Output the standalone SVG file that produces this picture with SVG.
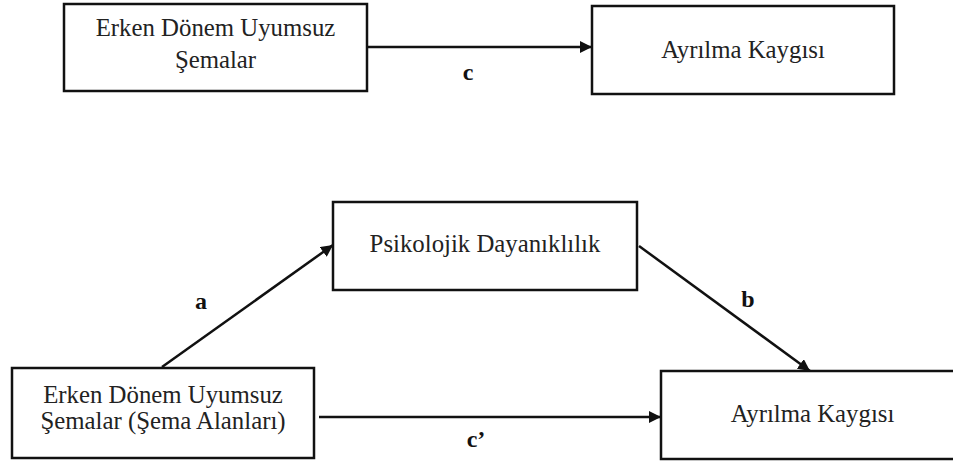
<svg xmlns="http://www.w3.org/2000/svg" width="953" height="461" viewBox="0 0 953 461">
<style>
.box{fill:#fff;stroke:#111;stroke-width:2.5}
.t{font-family:"Liberation Serif","Times New Roman",serif;font-size:24.8px;fill:#222;text-anchor:middle}
.l{font-family:"Liberation Serif","Times New Roman",serif;font-size:24px;font-weight:bold;fill:#111;text-anchor:middle}
.c{fill:none;stroke:#111;stroke-width:2.5}
</style>
<defs>
<marker id="ah" viewBox="0 0 10 10" refX="10" refY="5" markerWidth="12" markerHeight="12" markerUnits="userSpaceOnUse" orient="auto">
<path d="M0,0 L10,5 L0,10 Z" fill="#111"/>
</marker>
</defs>
<g id="connectors">
<line class="c" x1="367" y1="47" x2="592" y2="47" stroke-width="2" marker-end="url(#ah)"/>
<line class="c" x1="162" y1="367" x2="333" y2="245" marker-end="url(#ah)"/>
<line class="c" x1="639" y1="246" x2="810" y2="371" marker-end="url(#ah)"/>
<line class="c" x1="319" y1="417" x2="661" y2="417" marker-end="url(#ah)"/>
<text class="l" x="468" y="80">c</text>
<text class="l" x="201" y="309">a</text>
<text class="l" x="748" y="307">b</text>
<text class="l" x="476" y="447">c’</text>
</g>
<g id="n1">
<rect class="box" x="64" y="4" width="303" height="87"/>
<text class="t" x="215.5" y="36">Erken Dönem Uyumsuz</text>
<text class="t" x="215.5" y="68">Şemalar</text>
</g>
<g id="n2">
<rect class="box" x="592" y="6" width="302" height="88"/>
<text class="t" x="743" y="58">Ayrılma Kaygısı</text>
</g>
<g id="n3">
<rect class="box" x="333" y="202" width="304" height="88"/>
<text class="t" x="485" y="252">Psikolojik Dayanıklılık</text>
</g>
<g id="n4">
<rect class="box" x="12" y="368" width="302" height="90"/>
<text class="t" x="163" y="403">Erken Dönem Uyumsuz</text>
<text class="t" x="163" y="429">Şemalar (Şema Alanları)</text>
</g>
<g id="n5">
<rect class="box" x="661" y="371" width="310" height="88"/>
<text class="t" x="812.5" y="422">Ayrılma Kaygısı</text>
</g>
</svg>
